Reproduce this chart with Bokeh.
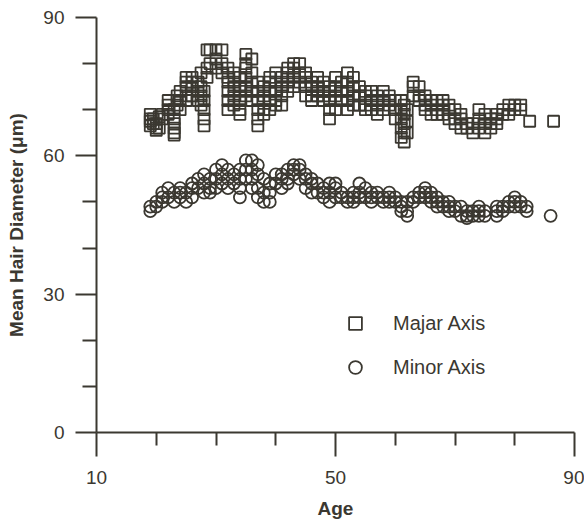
from bokeh.plotting import figure
from bokeh.models import Range1d, FixedTicker, Legend, LegendItem
from bokeh.embed import file_html
from bokeh.resources import INLINE

# ---- data ----
x_ticks = [10, 50, 90]
x_minor = [20, 30, 40, 60, 70, 80]
y_ticks = [0, 30, 60, 90]
y_minor = [10, 20, 40, 50, 70, 80]

major_age = [
    19, 19, 19, 19,
    19.5, 19.5,
    20, 20, 20,
    20.5, 20.5,
    21, 21,
    22, 22, 22, 22,
    23, 23, 23, 23, 23, 23,
    23.5, 23.5, 23.5,
    24, 24, 24,
    25, 25, 25, 25, 25,
    26, 26, 26, 26,
    27, 27, 27,
    27.5, 27.5, 27.5, 27.5,
    28, 28, 28, 28, 28,
    28.5, 28.5, 28.5,
    29, 29,
    30, 30, 30,
    31, 31, 31,
    32, 32, 32, 32, 32, 32,
    33, 33, 33, 33, 33,
    34, 34, 34, 34, 34, 34,
    35, 35, 35, 35, 35, 35,
    36, 36, 36, 36, 36,
    37, 37, 37, 37, 37, 37,
    38, 38, 38, 38,
    39, 39, 39, 39, 39,
    40, 40, 40, 40, 40,
    41, 41, 41, 41,
    42, 42, 42, 42,
    43, 43, 43, 43,
    44, 44, 44,
    45, 45, 45, 45,
    46, 46, 46, 46,
    47, 47, 47, 47,
    48, 48, 48, 48,
    49, 49, 49, 49, 49,
    50, 50, 50, 50,
    51, 51, 51,
    52, 52, 52, 52, 52,
    53, 53, 53, 53,
    54, 54, 54,
    55, 55, 55, 55,
    56, 56, 56,
    57, 57, 57,
    58, 58, 58,
    59, 59,
    60, 60, 60,
    61, 61, 61, 61, 61,
    61.5, 61.5, 61.5, 61.5, 61.5,
    62, 62, 62,
    63, 63, 63,
    64, 64, 64,
    65, 65, 65,
    66, 66, 66,
    67, 67, 67,
    68, 68, 68,
    69, 69, 69,
    70, 70, 70,
    71, 71, 71,
    72, 72,
    73, 73,
    74, 74, 74,
    75, 75, 75,
    76, 76, 76,
    77, 77, 77,
    78, 78,
    79, 79,
    80, 80,
    81, 81,
    82.5,
    86.5,
]
major_um = [
    69, 68, 67.5, 66.5,
    68, 67,
    67, 66, 65.5,
    68.5, 66,
    69, 68,
    72, 71, 70, 69,
    70, 68, 67, 66, 65, 64.5,
    73, 72, 71,
    74, 72, 70,
    77, 76, 75, 73, 72,
    77, 76, 75, 73,
    76, 74, 72,
    78, 75, 73, 71,
    74, 72, 70, 68, 66.5,
    83, 79, 77,
    83, 80,
    83, 81, 79,
    83, 80, 78,
    79, 77, 76, 74, 72, 70,
    78, 76, 75, 73, 71,
    77, 75, 74, 72, 70, 69,
    82, 80, 79, 77, 75, 73,
    81, 78, 76, 74, 72,
    76, 74, 72, 70, 68, 66.5,
    75, 73, 70, 69,
    77, 76, 74, 72, 70,
    78, 76, 74, 72, 71,
    77, 75, 73, 71,
    79, 78, 76, 74,
    80, 79, 77, 75,
    80, 78, 76,
    78, 77, 75, 73,
    76, 75, 73, 72,
    77, 75, 74, 73,
    76, 74, 73, 72,
    75, 74, 72, 70, 68,
    77, 75, 73, 70,
    76, 74, 72,
    78, 76, 74, 72, 70,
    77, 75, 73, 71,
    75, 73, 71,
    74, 73, 71, 70,
    74, 72, 70,
    73, 71, 69,
    74, 72, 70,
    73, 71,
    72, 70, 68,
    72, 70, 68, 66, 64,
    71, 69, 67, 65, 63,
    70, 67.5, 65,
    76, 75, 73,
    75, 73, 72,
    73, 71, 70,
    72, 71, 69,
    72, 70, 69,
    72, 71, 69,
    71, 70, 68,
    70, 68, 67,
    69, 68, 66,
    67, 66,
    67, 65,
    70, 68, 66,
    69, 67, 65,
    68, 67, 66,
    69, 68, 67,
    70, 69,
    71, 69,
    71, 70,
    71, 70,
    67.5,
    67.5,
]

minor_age = [
    19, 19,
    20, 20,
    21, 21, 21,
    22, 22,
    23, 23,
    24, 24, 24,
    25, 25,
    26, 26, 26,
    27, 27,
    28, 28, 28,
    29, 29, 29,
    30, 30, 30,
    31, 31, 31,
    32, 32, 32,
    33, 33,
    34, 34, 34, 34,
    35, 35, 35,
    36, 36, 36, 36,
    37, 37, 37, 37,
    38, 38, 38,
    39, 39, 39,
    40, 40,
    41, 41, 41,
    42, 42, 42,
    43, 43, 43,
    44, 44, 44,
    45, 45, 45,
    46, 46, 46,
    47, 47,
    48, 48, 48,
    49, 49, 49,
    50, 50, 50,
    51, 51,
    52, 52,
    53, 53, 53,
    54, 54, 54,
    55, 55,
    56, 56, 56,
    57, 57,
    58, 58,
    59, 59, 59,
    60, 60,
    61, 61, 61,
    62, 62, 62,
    63, 63,
    64, 64,
    65, 65, 65,
    66, 66, 66,
    67, 67, 67,
    68, 68,
    69, 69, 69,
    70, 70,
    71, 71,
    72, 72, 72,
    73, 73,
    74, 74, 74,
    75, 75,
    77, 77, 77,
    78, 78,
    79, 79,
    80, 80, 80,
    81, 81,
    82, 82,
    86,
]
minor_um = [
    49, 48,
    50, 49,
    52, 51, 50,
    53, 51,
    52, 50,
    53, 52, 51,
    52, 50,
    54, 53, 51,
    55, 53,
    56, 54, 52,
    55, 53, 52,
    57, 55, 53,
    58, 56, 54,
    57, 55, 53,
    56, 54,
    57, 55, 53, 51,
    59, 57, 55,
    59, 57, 55, 53,
    58, 56, 53, 51,
    55, 52, 50,
    54, 52, 50,
    56, 54,
    56, 55, 53,
    57, 55, 54,
    58, 57, 56,
    58, 57, 55,
    56, 55, 53,
    55, 54, 52,
    54, 52,
    53, 52, 51,
    54, 52, 50,
    54, 53, 51,
    52, 51,
    51, 50,
    52, 51, 50,
    54, 52, 51,
    53, 51,
    52, 51, 50,
    52, 51,
    51, 50,
    52, 51, 50,
    51, 50,
    50, 49, 48,
    50, 48, 47,
    51, 50,
    52, 51,
    53, 52, 51,
    52, 51, 50,
    51, 50, 49,
    50, 49,
    50, 49, 48,
    49, 48,
    49, 47,
    48, 47, 46.5,
    48, 47,
    49, 48, 47,
    48, 47,
    49, 48, 47,
    49, 48,
    50, 49,
    51, 50, 49,
    50, 49,
    49, 48,
    47,
]

INK = "#3b3831"
FONT = "Liberation Sans"

p = figure(width=584, height=521,
           x_range=Range1d(10, 90), y_range=Range1d(0, 90),
           output_backend="svg", toolbar_location=None,
           min_border_left=96, min_border_right=10,
           min_border_top=17, min_border_bottom=89)
p.xgrid.visible = False
p.ygrid.visible = False
p.outline_line_color = None

r1 = p.scatter(major_age, major_um, marker="square", size=11,
               fill_color=None, line_color=INK, line_width=1.8)
r2 = p.scatter(minor_age, minor_um, marker="circle", size=12,
               fill_color=None, line_color=INK, line_width=1.8)

xa = p.xaxis[0]
xa.ticker = FixedTicker(ticks=x_ticks, minor_ticks=x_minor)
xa.axis_label = "Age"
xa.major_tick_out = 24
xa.major_tick_in = 0
xa.minor_tick_out = 13
xa.minor_tick_in = 0
xa.major_label_standoff = 14
xa.axis_label_standoff = 11

ya = p.yaxis[0]
ya.ticker = FixedTicker(ticks=y_ticks, minor_ticks=y_minor)
ya.axis_label = "Mean Hair Diameter (μm)"
ya.major_tick_out = 21
ya.major_tick_in = 0
ya.minor_tick_out = 14
ya.minor_tick_in = 0
ya.major_label_standoff = 11
ya.axis_label_standoff = 13

for ax in (xa, ya):
    ax.axis_line_color = INK
    ax.axis_line_width = 2
    ax.major_tick_line_color = INK
    ax.major_tick_line_width = 2
    ax.minor_tick_line_color = INK
    ax.minor_tick_line_width = 2
    ax.major_label_text_font = FONT
    ax.major_label_text_font_size = "19px"
    ax.major_label_text_color = INK
    ax.axis_label_text_font = FONT
    ax.axis_label_text_font_size = "19px"
    ax.axis_label_text_font_style = "bold"
    ax.axis_label_text_color = INK

legend = Legend(items=[LegendItem(label="Majar Axis", renderers=[r1]),
                       LegendItem(label="Minor Axis", renderers=[r2])],
                location=(243, 49), padding=0, margin=0,
                border_line_color=None, background_fill_alpha=0,
                glyph_width=32, glyph_height=32, label_height=32,
                label_standoff=22, spacing=12,
                label_text_font=FONT, label_text_font_size="20px",
                label_text_color=INK)
p.add_layout(legend)

open("out.html", "w").write(file_html(p, INLINE))
